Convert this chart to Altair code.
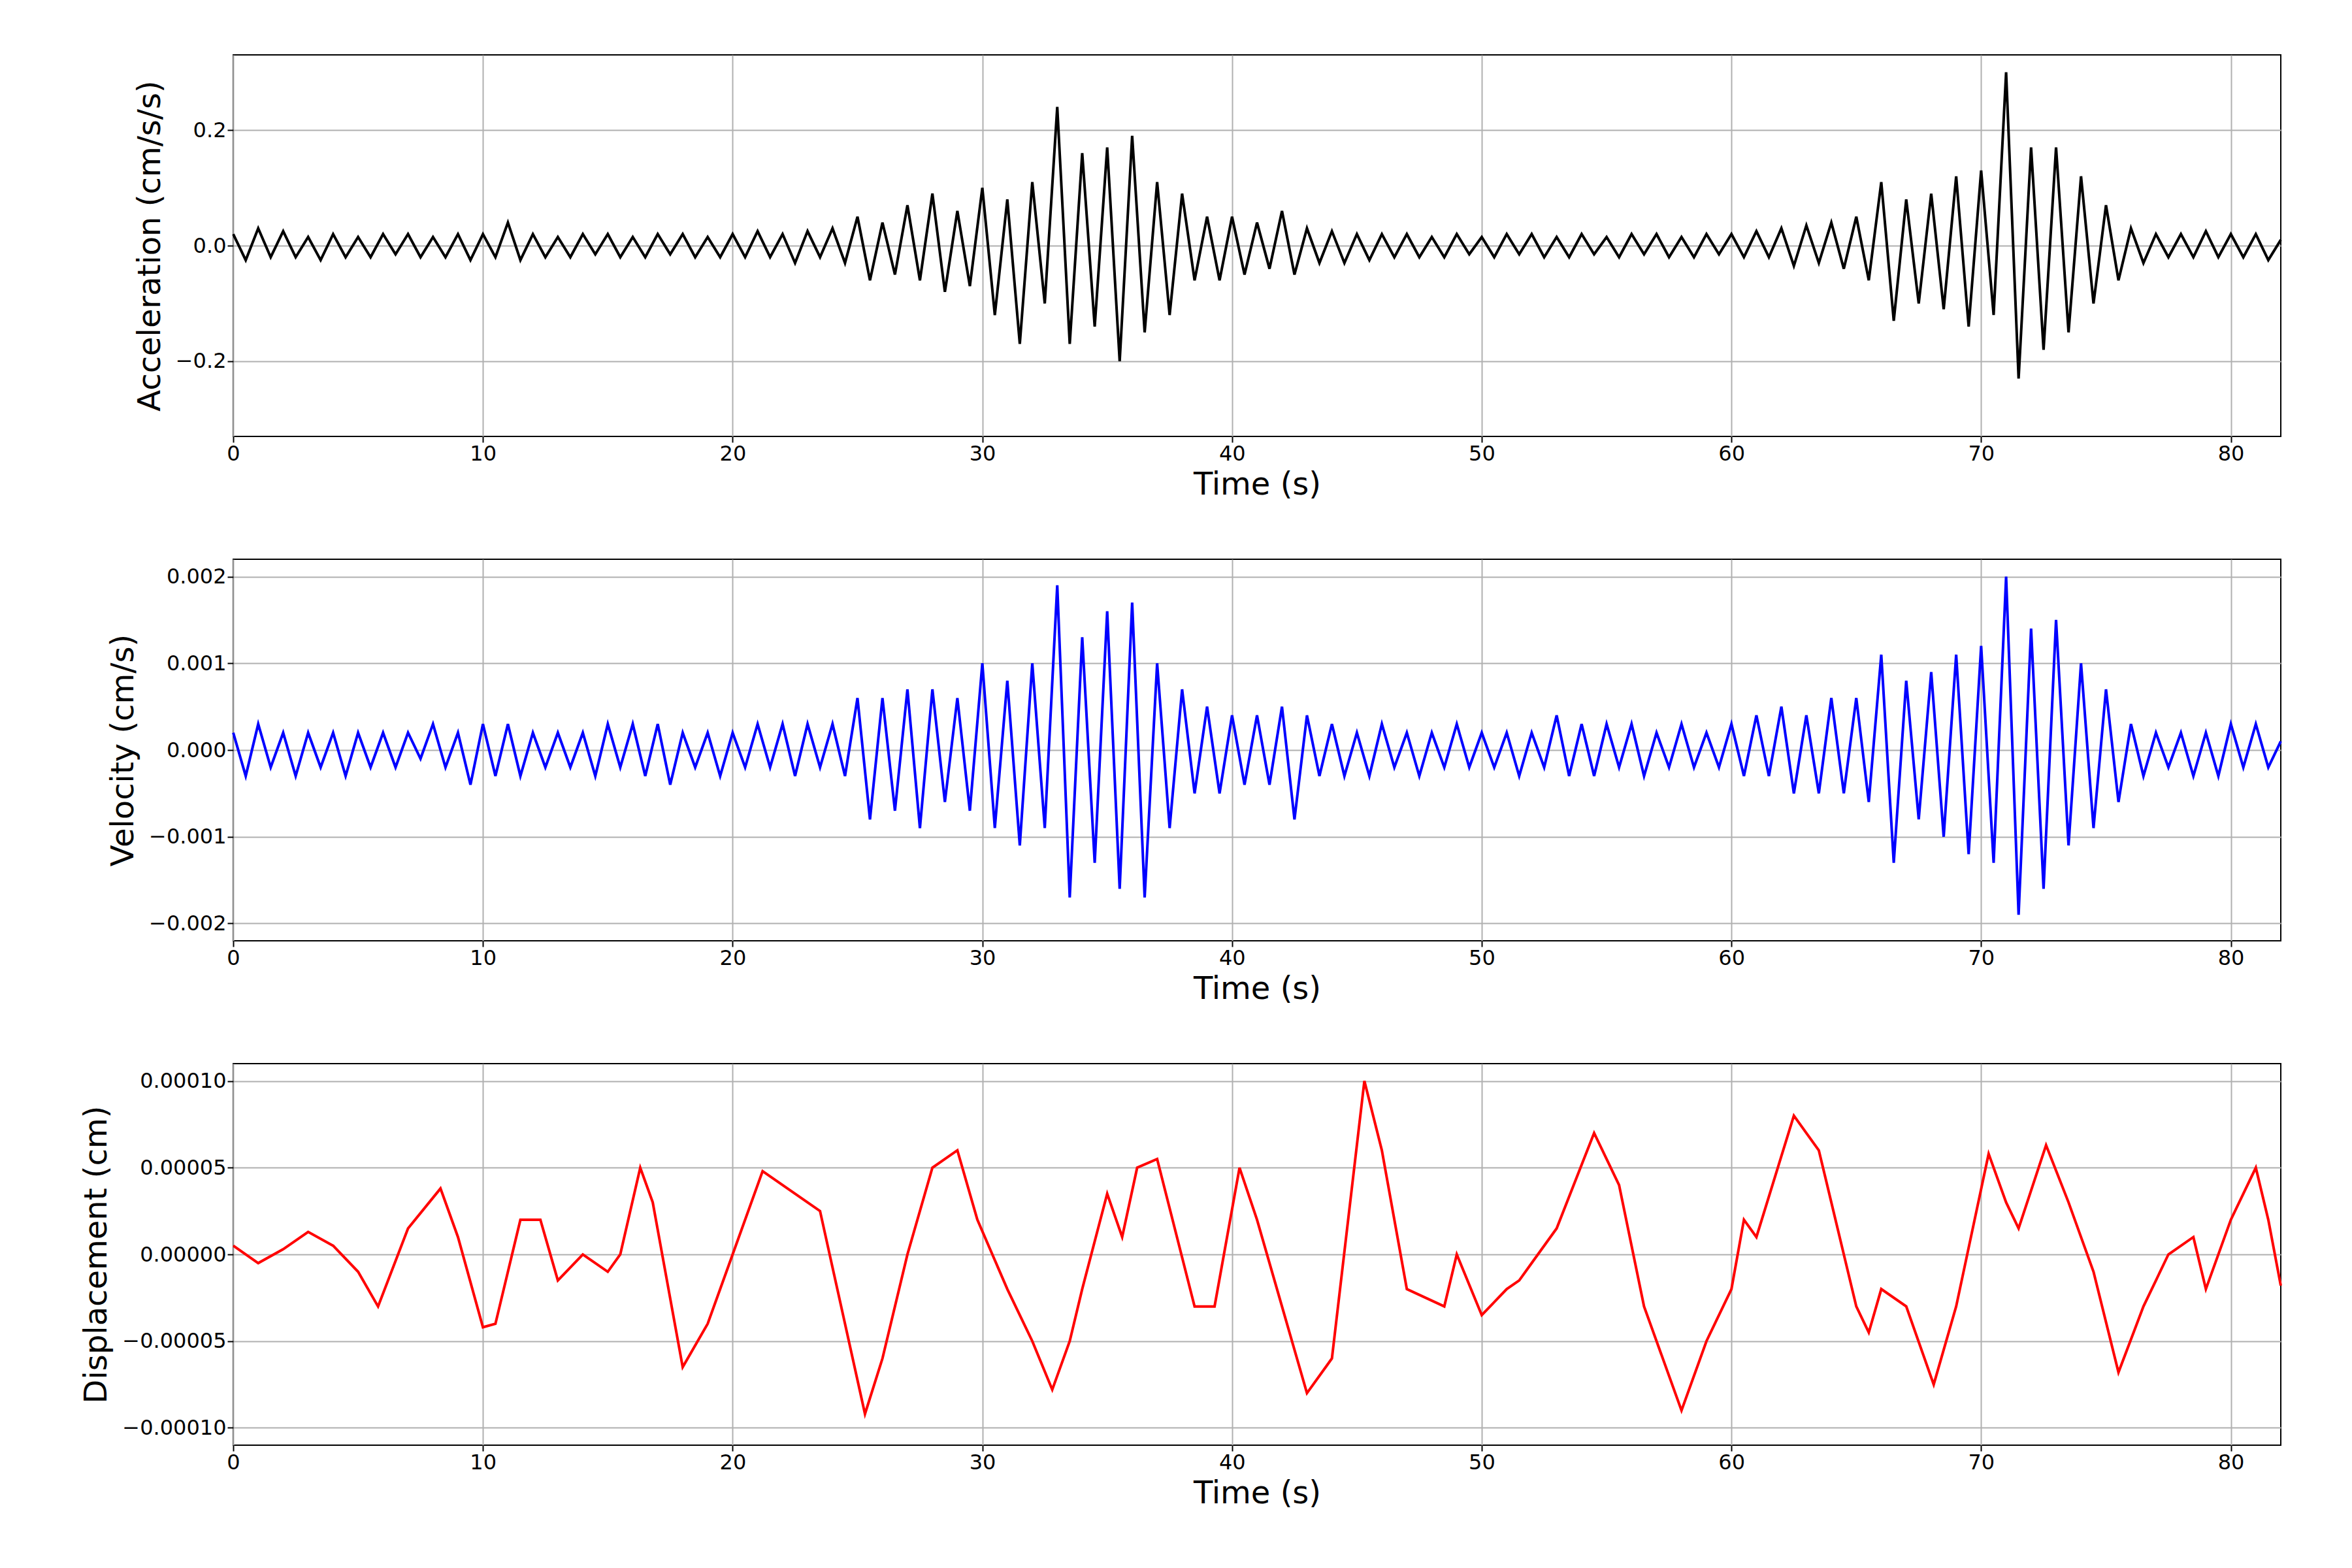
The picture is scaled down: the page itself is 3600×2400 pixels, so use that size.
import altair as alt
import pandas as pd

step = 0.5
acc = [0.02,-0.025,0.03,-0.02,0.025,-0.02,0.015,-0.025,0.02,-0.02,
0.015,-0.02,0.02,-0.015,0.02,-0.02,0.015,-0.02,0.02,-0.025,
0.02,-0.02,0.04,-0.025,0.02,-0.02,0.015,-0.02,0.02,-0.015,
0.02,-0.02,0.015,-0.02,0.02,-0.015,0.02,-0.02,0.015,-0.02,
0.02,-0.02,0.025,-0.02,0.02,-0.03,0.025,-0.02,0.03,-0.03,
0.05,-0.06,0.04,-0.05,0.07,-0.06,0.09,-0.08,0.06,-0.07,
0.1,-0.12,0.08,-0.17,0.11,-0.1,0.24,-0.17,0.16,-0.14,
0.17,-0.2,0.19,-0.15,0.11,-0.12,0.09,-0.06,0.05,-0.06,
0.05,-0.05,0.04,-0.04,0.06,-0.05,0.03,-0.03,0.025,-0.03,
0.02,-0.025,0.02,-0.02,0.02,-0.02,0.015,-0.02,0.02,-0.015,
0.015,-0.02,0.02,-0.015,0.02,-0.02,0.015,-0.02,0.02,-0.015,
0.015,-0.02,0.02,-0.015,0.02,-0.02,0.015,-0.02,0.02,-0.015,
0.02,-0.02,0.025,-0.02,0.03,-0.035,0.035,-0.03,0.04,-0.04,
0.05,-0.06,0.11,-0.13,0.08,-0.1,0.09,-0.11,0.12,-0.14,
0.13,-0.12,0.3,-0.23,0.17,-0.18,0.17,-0.15,0.12,-0.1,
0.07,-0.06,0.03,-0.03,0.02,-0.02,0.02,-0.02,0.025,-0.02,
0.02,-0.02,0.02,-0.025,0.01]
vel = [0.0002,-0.0003,0.0003,-0.0002,0.0002,-0.0003,0.0002,-0.0002,0.0002,-0.0003,
0.0002,-0.0002,0.0002,-0.0002,0.0002,-0.0001,0.0003,-0.0002,0.0002,-0.0004,
0.0003,-0.0003,0.0003,-0.0003,0.0002,-0.0002,0.0002,-0.0002,0.0002,-0.0003,
0.0003,-0.0002,0.0003,-0.0003,0.0003,-0.0004,0.0002,-0.0002,0.0002,-0.0003,
0.0002,-0.0002,0.0003,-0.0002,0.0003,-0.0003,0.0003,-0.0002,0.0003,-0.0003,
0.0006,-0.0008,0.0006,-0.0007,0.0007,-0.0009,0.0007,-0.0006,0.0006,-0.0007,
0.001,-0.0009,0.0008,-0.0011,0.001,-0.0009,0.0019,-0.0017,0.0013,-0.0013,
0.0016,-0.0016,0.0017,-0.0017,0.001,-0.0009,0.0007,-0.0005,0.0005,-0.0005,
0.0004,-0.0004,0.0004,-0.0004,0.0005,-0.0008,0.0004,-0.0003,0.0003,-0.0003,
0.0002,-0.0003,0.0003,-0.0002,0.0002,-0.0003,0.0002,-0.0002,0.0003,-0.0002,
0.0002,-0.0002,0.0002,-0.0003,0.0002,-0.0002,0.0004,-0.0003,0.0003,-0.0003,
0.0003,-0.0002,0.0003,-0.0003,0.0002,-0.0002,0.0003,-0.0002,0.0002,-0.0002,
0.0003,-0.0003,0.0004,-0.0003,0.0005,-0.0005,0.0004,-0.0005,0.0006,-0.0005,
0.0006,-0.0006,0.0011,-0.0013,0.0008,-0.0008,0.0009,-0.001,0.0011,-0.0012,
0.0012,-0.0013,0.002,-0.0019,0.0014,-0.0016,0.0015,-0.0011,0.001,-0.0009,
0.0007,-0.0006,0.0003,-0.0003,0.0002,-0.0002,0.0002,-0.0003,0.0002,-0.0003,
0.0003,-0.0002,0.0003,-0.0002,0.0001]
t_av = [i * step for i in range(len(acc))]

disp_t = [0,1,2,3,4,5,5.8,7,8.3,9,10,10.5,11.5,12.3,13,14,15,15.5,16.3,16.8,18,19,20,21.2,22.5,23.5,24.5,25.3,26,27,28,29,29.8,31,32,32.8,33.5,34,35,35.6,36.2,37,38.5,39.3,40.3,41,42,43,44,45.3,46,47,48.5,49,50,51,51.5,52,53,54.5,55.5,56.5,58,59,60,60.5,61,62.5,63.5,65,65.5,66,67,68.1,69,70.3,71,71.5,72.6,73.5,74.5,75.5,76.5,77.5,78.5,79,80,81,81.5,82]
disp_e5 = [0.5,-0.5,0.3,1.3,0.5,-1.0,-3.0,1.5,3.8,1,-4.2,-4,2,2,-1.5,0,-1,0,5,3,-6.5,-4,0,4.8,3.5,2.5,-4,-9.2,-6,0,5,6,2,-2,-5,-7.8,-5,-2,3.5,1,5,5.5,-3,-3,5,2,-3,-8,-6,10,6,-2,-3,0,-3.5,-2,-1.5,-0.5,1.5,7,4,-3,-9,-5,-2,2,1,8,6,-3,-4.5,-2,-3,-7.5,-3,5.8,3,1.5,6.3,3,-1,-6.8,-3,0,1,-2,2,5,2,-1.8]

W, H = 3134, 584
axis_cfg = dict(labelFontSize=32, titleFontSize=48, titleFontWeight="normal",
                gridColor="#b0b0b0", gridWidth=2, domain=False, tickColor="black",
                tickSize=9, tickWidth=2, labelColor="black", titleColor="black",
                labelFont="DejaVu Sans", titleFont="DejaVu Sans", labelFlush=False)

def panel(t, y, color, title, dom, vals, fmt):
    df = pd.DataFrame({"t": t, "y": y})
    return alt.Chart(df).mark_line(color=color, strokeWidth=4).encode(
        x=alt.X("t:Q", title="Time (s)", scale=alt.Scale(domain=[0, 82], nice=False, zero=False),
                axis=alt.Axis(values=list(range(0, 90, 10)), titlePadding=8)),
        y=alt.Y("y:Q", title=title, scale=alt.Scale(domain=dom, nice=False),
                axis=alt.Axis(values=vals, format=fmt, titlePadding=14)),
    ).properties(width=W, height=H)

p1 = panel(t_av, acc, "black", "Acceleration (cm/s/s)", [-0.33, 0.33], [-0.2, 0.0, 0.2], ".1f")
p2 = panel(t_av, vel, "blue", "Velocity (cm/s)", [-0.0022, 0.0022], [-0.002, -0.001, 0, 0.001, 0.002], ".3f")
p3 = panel(disp_t, [v * 1e-5 for v in disp_e5], "red", "Displacement (cm)", [-0.00011, 0.00011],
           [-0.0001, -0.00005, 0, 0.00005, 0.0001], ".5f")

chart = alt.vconcat(p1, p2, p3, spacing=88).configure_axis(**axis_cfg).configure_view(
    stroke="black", strokeWidth=2).properties(padding={"left": 115, "top": 75, "right": 30, "bottom": 10})
chart.save("out.html", embed_options={"renderer": "svg", "actions": False})
